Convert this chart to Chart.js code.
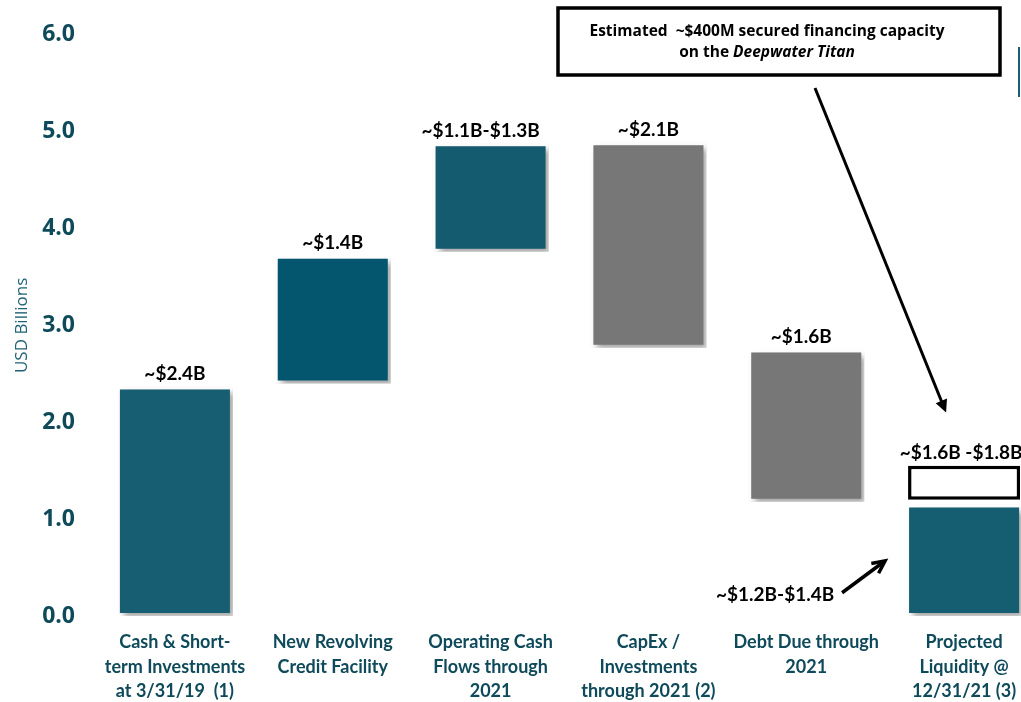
<!DOCTYPE html>
<html>
<head>
<meta charset="utf-8">
<script src="https://cdn.jsdelivr.net/npm/chart.js@4.4.1/dist/chart.umd.min.js"></script>
<style>
  html, body { margin: 0; padding: 0; background: #fff; overflow: hidden; }
  #wrap { position: relative; width: 1046px; height: 702px; }
</style>
</head>
<body>
<div id="wrap"><canvas id="chart"></canvas></div>
<script>
// categories and floating bar ranges (USD billions)
const categories = [
  ['Cash & Short-', 'term Investments', 'at 3/31/19  (1)'],
  ['New Revolving', 'Credit Facility'],
  ['Operating Cash', 'Flows through', '2021'],
  ['CapEx /', 'Investments', 'through 2021 (2)'],
  ['Debt Due through', '2021'],
  ['Projected', 'Liquidity @', '12/31/21 (3)']
];
const barStart = [0, 2.40, 3.76, 2.77, 1.18, 0];
const barEnd = [2.37, 3.72, 4.88, 4.89, 2.75, 1.15];
const rangeStart = [null, null, null, null, null, 1.20];
const rangeEnd = [null, null, null, null, null, 1.55];
const barLabels = ['~$2.4B', '~$1.4B', '~$1.1B-$1.3B', '~$2.1B', '~$1.6B', ''];
const rangeLabel = '~$1.6B -$1.8B';
const baseLabel = '~$1.2B-$1.4B';
const noteLines = ['Estimated  ~$400M secured financing capacity', 'on the '];
const noteItalic = 'Deepwater Titan';
const barColors = ['#175e72', '#03566e', '#145b70', '#777777', '#777777', '#155e72'];

const teal = '#0e4a5a';

const shadowPlugin = {
  id: 'shadow',
  beforeDatasetDraw(chart, args) {
    if (args.index !== 0) return;
    const ctx = chart.ctx;
    ctx.save();
    ctx.shadowColor = 'rgba(0,0,0,0.35)';
    ctx.shadowBlur = 6;
    ctx.shadowOffsetX = 4;
    ctx.shadowOffsetY = 4;
  },
  afterDatasetDraw(chart, args) {
    if (args.index !== 0) return;
    chart.ctx.restore();
  }
};

function arrow(ctx, x1, y1, x2, y2, filled) {
  const ang = Math.atan2(y2 - y1, x2 - x1);
  const h = 14;
  ctx.beginPath();
  ctx.moveTo(x1, y1);
  ctx.lineTo(x2 - Math.cos(ang) * (filled ? h * 0.8 : 2), y2 - Math.sin(ang) * (filled ? h * 0.8 : 2));
  ctx.stroke();
  ctx.beginPath();
  ctx.moveTo(x2 - h * Math.cos(ang - 0.45), y2 - h * Math.sin(ang - 0.45));
  ctx.lineTo(x2, y2);
  ctx.lineTo(x2 - h * Math.cos(ang + 0.45), y2 - h * Math.sin(ang + 0.45));
  if (filled) { ctx.closePath(); ctx.fill(); } else { ctx.stroke(); }
}

const notesPlugin = {
  id: 'notes',
  afterDatasetsDraw(chart) {
    const ctx = chart.ctx;
    const x = chart.scales.x, y = chart.scales.y;
    const bars = chart.getDatasetMeta(0).data;
    const box = chart.getDatasetMeta(1).data[5];
    ctx.save();
    ctx.fillStyle = '#000';
    ctx.font = 'bold 19px Lato, "Open Sans", sans-serif';
    ctx.textAlign = 'center';
    ctx.textBaseline = 'bottom';
    bars.forEach((b, i) => {
      if (!barLabels[i]) return;
      const dx = i === 2 ? -10 : (i === 4 ? -5 : 0);
      ctx.fillText(barLabels[i], b.x + dx, Math.min(b.y, b.base) - 3);
    });
    ctx.fillText(rangeLabel, box.x - 3, Math.min(box.y, box.base) - 3);

    // base liquidity label + arrow
    const bx = x.getPixelForValue(5);
    ctx.textBaseline = 'middle';
    ctx.fillText(baseLabel, bx - 189, y.getPixelForValue(0.22));
    ctx.strokeStyle = '#000';
    ctx.lineWidth = 3.5;
    arrow(ctx, bx - 122, y.getPixelForValue(0.24), bx - 79, y.getPixelForValue(0.57), false);

    // financing note box
    const nx1 = 558, ny1 = 8, nx2 = 1000, ny2 = 75;
    ctx.lineWidth = 3.5;
    ctx.strokeRect(nx1, ny1, nx2 - nx1, ny2 - ny1);
    const f = '15.5px "Open Sans", Lato, sans-serif';
    ctx.font = 'bold ' + f;
    const cx = (nx1 + nx2) / 2 - 12;
    ctx.fillText(noteLines[0], cx, 32);
    const w1 = ctx.measureText(noteLines[1]).width;
    ctx.font = 'italic bold ' + f;
    const w2 = ctx.measureText(noteItalic).width;
    ctx.textAlign = 'left';
    const sx = cx - (w1 + w2) / 2;
    ctx.font = 'bold ' + f;
    ctx.fillText(noteLines[1], sx, 53);
    ctx.font = 'italic bold ' + f;
    ctx.fillText(noteItalic, sx + w1, 53);

    ctx.lineWidth = 3;
    arrow(ctx, 815, 88, bx - 18, y.getPixelForValue(2.10), true);

    // edge marker
    ctx.strokeStyle = '#1b5f73';
    ctx.lineWidth = 2;
    ctx.beginPath();
    ctx.moveTo(1019, 47);
    ctx.lineTo(1019, 97);
    ctx.stroke();
    ctx.restore();
  }
};

new Chart(document.getElementById('chart'), {
  type: 'bar',
  data: {
    labels: categories,
    datasets: [
      {
        data: barStart.map((s, i) => [s, barEnd[i]]),
        backgroundColor: barColors,
        borderColor: '#ffffff',
        borderWidth: 3,
        borderSkipped: false,
        grouped: false,
        categoryPercentage: 1,
        barPercentage: 0.735
      },
      {
        data: rangeStart.map((s, i) => (s === null ? null : [s, rangeEnd[i]])),
        backgroundColor: '#ffffff',
        borderColor: '#000000',
        borderWidth: 3.5,
        borderSkipped: false,
        grouped: false,
        categoryPercentage: 1,
        barPercentage: 0.71
      }
    ]
  },
  options: {
    responsive: true,
    maintainAspectRatio: false,
    animation: false,
    layout: { padding: { top: 33, right: 3, bottom: 0, left: 0 } },
    plugins: { legend: { display: false }, tooltip: { enabled: false } },
    scales: {
      x: {
        afterFit(scale) { scale.height = 86; },
        grid: { display: false, drawTicks: false },
        border: { display: false },
        ticks: {
          color: teal,
          padding: 14,
          maxRotation: 0,
          autoSkip: false,
          font: { family: 'Lato, "Open Sans", sans-serif', size: 18, weight: 'bold', lineHeight: 1.36 }
        }
      },
      y: {
        min: 0,
        max: 6,
        afterFit(scale) { scale.width = 96; },
        grid: { display: false, drawTicks: false },
        border: { display: false },
        ticks: {
          stepSize: 1,
          padding: 21,
          color: teal,
          callback: (v) => v.toFixed(1),
          font: { family: '"Open Sans", Lato, sans-serif', size: 23, weight: 'bold' }
        },
        title: {
          display: true,
          text: 'USD Billions',
          color: '#1f6277',
          padding: { top: 12, bottom: 0 },
          font: { family: '"Open Sans", sans-serif', size: 17 }
        }
      }
    }
  },
  plugins: [shadowPlugin, notesPlugin]
});
</script>
</body>
</html>
